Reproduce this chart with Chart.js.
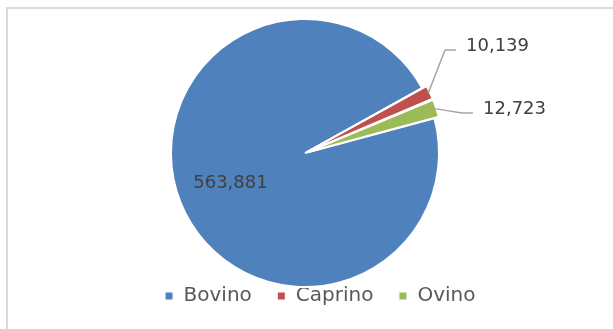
<!DOCTYPE html>
<html>
<head>
<meta charset="utf-8">
<script src="https://cdn.jsdelivr.net/npm/chart.js@4"></script>
<style>
  html, body { margin: 0; padding: 0; background: #fff; }
  #frame { position: absolute; left: 6px; top: 7px; width: 700px; height: 400px;
           border-left: 2px solid #d9d9d9; border-top: 2px solid #d9d9d9; }
  #wrap { position: absolute; left: 0; top: 0; width: 613px; height: 329px; }
</style>
</head>
<body>
<div id="frame"></div>
<div id="wrap"><canvas id="pie" width="613" height="329"></canvas></div>
<script>
const categories = ['Bovino', 'Caprino', 'Ovino'];
const values = [563881, 10139, 12723];
const colors = ['#4f81bd', '#c0504d', '#9bbb59'];

// label placement (outside labels use an elbow relative to the pie centre)
const labelStyle = [
  { inside: true, factor: 0.6 },
  { inside: false, elbow: [140, -103] },
  { inside: false, elbow: [157, -40] }
];

window.addEventListener('DOMContentLoaded', () => {
  const ctx = document.getElementById('pie').getContext('2d');

  new Chart(ctx, {
    type: 'pie',
    data: {
      labels: categories,
      datasets: [{
        data: values,
        backgroundColor: colors,
        borderColor: '#ffffff',
        borderWidth: 2,
        offset: [0, 10, 10]
      }]
    },
    options: {
      responsive: false,
      animation: false,
      rotation: 75,
      radius: 134,
      layout: { padding: { top: 45, left: 0, right: 3, bottom: 13 } },
      plugins: {
        tooltip: { enabled: false },
        legend: {
          position: 'bottom',
          labels: {
            usePointStyle: true,
            pointStyle: 'rect',
            boxWidth: 9,
            boxHeight: 9,
            padding: 25,
            color: '#595959',
            font: { family: 'DejaVu Sans', size: 20 }
          }
        }
      }
    },
    plugins: [{
      // the legend in the original sits a bit right of the pie
      id: 'shiftLegend',
      afterLayout(chart) {
        chart.legend.left += 15;
        chart.legend.right += 15;
      }
    }, {
      id: 'pieLabels',
      afterDraw(chart) {
        const c = chart.ctx;
        const meta = chart.getDatasetMeta(0);
        c.save();
        c.font = '18px "DejaVu Sans"';
        c.fillStyle = '#404040';
        c.textBaseline = 'middle';
        meta.data.forEach((arc, i) => {
          const {x, y, startAngle, endAngle, outerRadius} = arc.getProps(['x', 'y', 'startAngle', 'endAngle', 'outerRadius'], true);
          const mid = (startAngle + endAngle) / 2;
          const txt = values[i].toLocaleString('en-US');
          const st = labelStyle[i];
          if (st.inside) {
            c.textAlign = 'center';
            c.fillText(txt, x + Math.cos(mid) * outerRadius * st.factor, y + Math.sin(mid) * outerRadius * st.factor);
          } else {
            const sx = x + Math.cos(mid) * (outerRadius + 3);
            const sy = y + Math.sin(mid) * (outerRadius + 3);
            const ex = x + st.elbow[0], ey = y + st.elbow[1];
            c.strokeStyle = '#a6a6a6';
            c.lineWidth = 1.5;
            c.beginPath();
            c.moveTo(sx, sy);
            c.lineTo(ex, ey);
            c.lineTo(ex + 11, ey);
            c.stroke();
            c.textAlign = 'left';
            c.fillText(txt, ex + 21, ey - 4);
          }
        });
        c.restore();
      }
    }]
  });
});
</script>
</body>
</html>
